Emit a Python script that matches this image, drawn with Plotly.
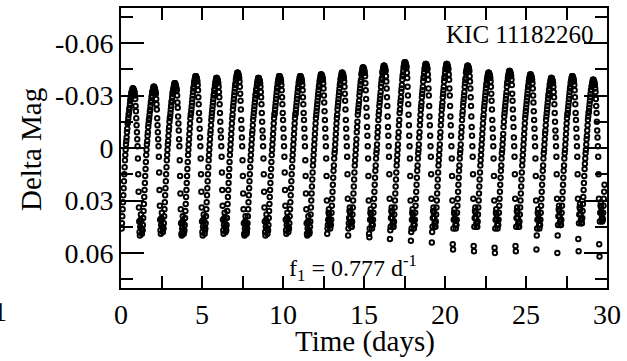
import plotly.graph_objects as go

# Kepler long-cadence photometry of KIC 11182260, one row per pulsation cycle,
# magnitudes in mmag relative to the mean (negative = brighter).
t_start = 0.04      # days
cadence = 0.0205    # days between samples

light_curve_mmag = [
    [46, 43, 39, 35, 31, 27, 23, 19, 15, 11, 7, 4, 1, -2, -4, -6, -9, -11, -14, -15, -17, -19, -20, -22, -23, -25, -27, -28, -29, -31, -32, -32, -33, -34, -34, -34, -33, -33, -32, -32, -30, -28, -24, -21, -17, -13, -9, -5, -1, 6, 15, 25, 34, 42, 48, 50, 45, 41, 38, 42, 46, 49, 47],
    [47, 44, 40, 36, 32, 28, 24, 20, 16, 12, 8, 4, 1, -2, -4, -7, -9, -12, -14, -16, -17, -19, -21, -22, -24, -26, -27, -29, -30, -32, -32, -33, -34, -35, -35, -35, -34, -34, -33, -32, -31, -28, -25, -22, -17, -13, -9, -5, -1, 5, 14, 24, 33, 41, 47, 49, 44, 40, 37, 41, 45, 48, 46],
    [46, 43, 39, 35, 31, 27, 23, 19, 15, 11, 7, 4, 1, -2, -4, -7, -10, -12, -15, -17, -18, -20, -22, -24, -26, -27, -29, -31, -32, -33, -34, -35, -36, -37, -37, -37, -36, -36, -35, -34, -33, -30, -26, -23, -18, -14, -10, -5, -1, 7, 16, 26, 35, 43, 49, 50, 46, 42, 39, 43, 47, 49, 48],
    [47, 44, 40, 36, 32, 28, 24, 20, 16, 12, 8, 4, 1, -2, -5, -8, -11, -14, -17, -19, -20, -22, -24, -26, -28, -30, -32, -34, -35, -37, -38, -39, -40, -41, -41, -41, -40, -40, -39, -38, -36, -33, -29, -25, -20, -16, -11, -6, -1, 6, 15, 25, 34, 42, 48, 50, 45, 41, 38, 42, 46, 49, 47],
    [46, 43, 39, 35, 31, 27, 23, 19, 15, 11, 7, 4, 1, -2, -5, -8, -10, -13, -16, -18, -20, -22, -24, -26, -28, -30, -31, -33, -34, -36, -37, -38, -39, -40, -40, -40, -39, -39, -38, -37, -35, -32, -29, -25, -20, -15, -10, -6, -1, 5, 14, 24, 33, 41, 47, 49, 44, 40, 37, 41, 45, 48, 46],
    [47, 44, 40, 36, 32, 28, 24, 20, 16, 12, 8, 4, 1, -2, -5, -8, -11, -14, -17, -19, -22, -24, -26, -28, -30, -32, -34, -36, -37, -39, -40, -41, -42, -43, -43, -43, -42, -42, -41, -40, -38, -35, -31, -27, -22, -16, -11, -6, -1, 7, 16, 26, 35, 43, 49, 50, 46, 42, 39, 43, 47, 49, 48],
    [46, 43, 39, 35, 31, 27, 23, 19, 15, 11, 7, 4, 1, -2, -5, -8, -10, -13, -16, -18, -20, -22, -24, -26, -28, -30, -31, -33, -34, -36, -37, -38, -39, -40, -40, -40, -39, -39, -38, -37, -35, -32, -29, -25, -20, -15, -10, -6, -1, 6, 15, 25, 34, 42, 48, 50, 45, 41, 38, 42, 46, 49, 47],
    [47, 44, 40, 36, 32, 28, 24, 20, 16, 12, 8, 4, 1, -2, -5, -8, -11, -14, -17, -19, -20, -22, -24, -26, -28, -30, -32, -34, -35, -37, -38, -39, -40, -41, -41, -41, -40, -40, -39, -38, -36, -33, -29, -25, -20, -16, -11, -6, -1, 5, 14, 24, 33, 41, 47, 49, 44, 40, 37, 41, 45, 48, 46],
    [46, 43, 39, 35, 31, 27, 23, 19, 15, 11, 7, 4, 1, -2, -5, -8, -11, -14, -17, -19, -20, -22, -24, -26, -28, -30, -32, -34, -35, -37, -38, -39, -40, -41, -41, -41, -40, -40, -39, -38, -36, -33, -29, -25, -20, -16, -11, -6, -1, 7, 16, 26, 35, 43, 49, 50, 46, 42, 39, 43, 47, 49, 48],
    [45, 42, 38, 34, 30, 26, 22, 18, 14, 10, 7, 4, 1, -2, -5, -8, -11, -14, -17, -19, -21, -23, -25, -27, -29, -31, -33, -35, -36, -38, -39, -40, -41, -42, -42, -42, -41, -41, -40, -39, -37, -34, -30, -26, -21, -16, -11, -6, -1, 6, 16, 30, 49, 46, 44, 41, 37, 35, 38, 41, 44, 46, 44],
    [44, 41, 37, 33, 29, 25, 21, 17, 13, 10, 6, 3, 1, -2, -5, -8, -11, -14, -17, -19, -22, -24, -26, -28, -30, -32, -34, -36, -37, -39, -40, -41, -42, -43, -43, -43, -42, -42, -41, -40, -38, -35, -31, -27, -22, -16, -11, -6, -1, 5, 15, 29, 50, 46, 43, 40, 36, 34, 37, 40, 43, 45, 43],
    [45, 42, 38, 34, 30, 26, 22, 18, 14, 10, 7, 4, 1, -2, -5, -9, -12, -15, -19, -21, -23, -25, -27, -30, -32, -34, -36, -38, -39, -42, -43, -44, -45, -46, -46, -46, -45, -45, -44, -43, -41, -37, -33, -28, -23, -18, -12, -7, -1, 6, 16, 30, 49, 51, 46, 41, 37, 35, 38, 41, 44, 46, 44],
    [44, 41, 37, 33, 29, 25, 21, 17, 13, 10, 6, 3, 1, -2, -6, -9, -12, -16, -19, -21, -24, -26, -28, -30, -32, -35, -37, -39, -40, -43, -44, -45, -46, -47, -47, -47, -46, -46, -45, -44, -41, -38, -34, -29, -24, -18, -12, -7, -1, 5, 15, 29, 52, 47, 45, 40, 36, 34, 37, 40, 43, 45, 43],
    [45, 42, 38, 34, 30, 26, 22, 18, 14, 10, 7, 4, 1, -2, -6, -9, -13, -16, -20, -22, -25, -27, -29, -32, -34, -36, -39, -41, -42, -44, -46, -47, -48, -49, -49, -49, -48, -48, -47, -46, -43, -40, -35, -30, -25, -19, -13, -7, -1, 6, 16, 30, 53, 48, 46, 41, 37, 35, 38, 41, 44, 46, 44],
    [44, 41, 37, 33, 29, 25, 21, 17, 13, 10, 6, 3, 1, -2, -6, -9, -13, -16, -19, -22, -24, -26, -29, -31, -33, -35, -38, -40, -41, -43, -45, -46, -47, -48, -48, -48, -47, -47, -46, -45, -42, -39, -34, -30, -24, -18, -13, -7, -1, 5, 15, 29, 54, 48, 45, 40, 36, 34, 37, 40, 43, 45, 43],
    [45, 42, 38, 34, 30, 26, 22, 18, 14, 10, 7, 4, 1, -2, -6, -9, -13, -16, -19, -22, -24, -26, -29, -31, -33, -35, -38, -40, -41, -43, -45, -46, -47, -48, -48, -48, -47, -47, -46, -45, -42, -39, -34, -30, -24, -18, -13, -7, -1, 6, 16, 30, 55, 58, 46, 41, 37, 35, 38, 41, 44, 46, 44],
    [44, 41, 37, 33, 29, 25, 21, 17, 13, 10, 6, 3, 1, -2, -6, -9, -12, -16, -19, -21, -24, -26, -28, -30, -32, -35, -37, -39, -40, -43, -44, -45, -46, -47, -47, -47, -46, -46, -45, -44, -41, -38, -34, -29, -24, -18, -12, -7, -1, 5, 15, 29, 56, 59, 45, 40, 36, 34, 37, 40, 43, 45, 43],
    [45, 42, 38, 34, 30, 26, 22, 18, 14, 10, 7, 4, 1, -2, -5, -8, -11, -14, -17, -19, -22, -24, -26, -28, -30, -32, -34, -36, -37, -39, -40, -41, -42, -43, -43, -43, -42, -42, -41, -40, -38, -35, -31, -27, -22, -16, -11, -6, -1, 6, 16, 30, 57, 60, 46, 41, 37, 35, 38, 41, 44, 46, 44],
    [44, 41, 37, 33, 29, 25, 21, 17, 13, 10, 6, 3, 1, -2, -5, -8, -12, -15, -18, -20, -22, -24, -26, -28, -30, -32, -35, -37, -38, -40, -41, -42, -43, -44, -44, -44, -43, -43, -42, -41, -39, -36, -31, -27, -22, -17, -12, -6, -1, 5, 15, 29, 56, 59, 45, 40, 36, 34, 37, 40, 43, 45, 43],
    [45, 42, 38, 34, 30, 26, 22, 18, 14, 10, 7, 4, 1, -2, -5, -8, -11, -14, -17, -19, -21, -23, -25, -27, -29, -31, -33, -35, -36, -38, -39, -40, -41, -42, -42, -42, -41, -41, -40, -39, -37, -34, -30, -26, -21, -16, -11, -6, -1, 6, 16, 30, 58, 50, 46, 41, 37, 35, 38, 41, 44, 46, 44],
    [44, 41, 37, 33, 29, 25, 21, 17, 13, 10, 6, 3, 1, -2, -5, -8, -10, -13, -16, -18, -20, -22, -24, -26, -28, -30, -31, -33, -34, -36, -37, -38, -39, -40, -40, -40, -39, -39, -38, -37, -35, -32, -29, -25, -20, -15, -10, -6, -1, 5, 15, 29, 60, 50, 44, 39, 35, 33, 36, 39, 42, 44, 42],
    [44, 41, 37, 33, 29, 25, 21, 17, 13, 10, 6, 3, 1, -2, -5, -8, -11, -14, -17, -19, -20, -22, -24, -26, -28, -30, -32, -34, -35, -37, -38, -39, -40, -41, -41, -41, -40, -40, -39, -38, -36, -33, -29, -25, -20, -16, -11, -6, -1, 5, 15, 29, 52, 59, 43, 38, 34, 32, 35, 38, 41, 43, 41],
    [43, 40, 36, 32, 28, 24, 20, 16, 12, 9, 6, 3, 1, -2, -5, -7, -10, -13, -16, -18, -20, -21, -23, -25, -27, -29, -31, -33, -33, -35, -36, -37, -38, -39, -39, -39, -38, -38, -37, -36, -34, -32, -28, -24, -20, -15, -10, -6, -1, 5, 15, 29, 55, 62, 42, 37, 33, 31, 34, 37, 40, 42, 40],
    [41, 37, 33, 29, 25, 21],
]

# Axis ticks
x_ticks = [0, 5, 10, 15, 20, 25, 30]
y_ticks = [-0.06, -0.03, 0.0, 0.03, 0.06]
y_tick_text = ["-0.06", "-0.03", "0", "0.03", "0.06"]

mags = [v / 1000.0 for cycle in light_curve_mmag for v in cycle]
times = [t_start + i * cadence for i in range(len(mags))]

serif = "Liberation Serif, Times New Roman, serif"

fig = go.Figure()
fig.add_trace(go.Scatter(
    x=times, y=mags, mode="markers",
    marker=dict(symbol="circle-open", size=4.5, color="black",
                line=dict(width=1.9, color="black")),
    showlegend=False, hoverinfo="skip",
))

fig.update_layout(
    width=627, height=361,
    margin=dict(l=121, r=14, t=6, b=73),
    paper_bgcolor="white", plot_bgcolor="white",
    font=dict(family=serif, color="black"),
)

fig.update_xaxes(
    range=[0, 30], showgrid=False, zeroline=False,
    showline=True, linecolor="black", linewidth=2, mirror="allticks",
    ticks="inside", ticklen=12, tickwidth=2, tickcolor="black",
    tickvals=x_ticks, ticktext=[str(v) for v in x_ticks],
    tickfont=dict(family=serif, size=28, color="black"),
    minor=dict(dtick=2.5, tick0=0, ticks="inside", ticklen=12,
               tickwidth=2, tickcolor="black"),
)
fig.update_yaxes(
    range=[0.08, -0.08], showgrid=False, zeroline=False,
    showline=True, linecolor="black", linewidth=2, mirror="allticks",
    ticks="inside", ticklen=23, tickwidth=2, tickcolor="black",
    tickvals=y_ticks, ticktext=y_tick_text,
    tickfont=dict(family=serif, size=28, color="black"),
    minor=dict(dtick=0.015, tick0=0, ticks="inside", ticklen=12,
               tickwidth=2, tickcolor="black"),
)

fig.add_annotation(
    text="Time (days)", xref="paper", yref="paper",
    x=0.502, y=-0.19, xanchor="center", yanchor="middle",
    showarrow=False, font=dict(family=serif, size=29, color="black"),
)
fig.add_annotation(
    text="Delta Mag", xref="paper", yref="paper",
    x=-0.185, y=0.493, xanchor="center", yanchor="middle", textangle=-90,
    showarrow=False, font=dict(family=serif, size=29, color="black"),
)
fig.add_annotation(
    text="KIC 11182260", xref="paper", yref="paper",
    x=0.975, y=0.905, xanchor="right", yanchor="middle",
    showarrow=False, font=dict(family=serif, size=25, color="black"),
)
fig.add_annotation(
    text="f<sub>1</sub> = 0.777 d<sup>-1</sup>", xref="paper", yref="paper",
    x=0.478, y=0.07, xanchor="center", yanchor="middle",
    showarrow=False, font=dict(family=serif, size=24, color="black"),
)
# trailing tick label of the neighbouring panel
fig.add_annotation(
    text="1", xref="paper", yref="paper",
    x=-0.23, y=-0.085, xanchor="right", yanchor="middle",
    showarrow=False, font=dict(family=serif, size=28, color="black"),
)

fig.write_html("out.html")
